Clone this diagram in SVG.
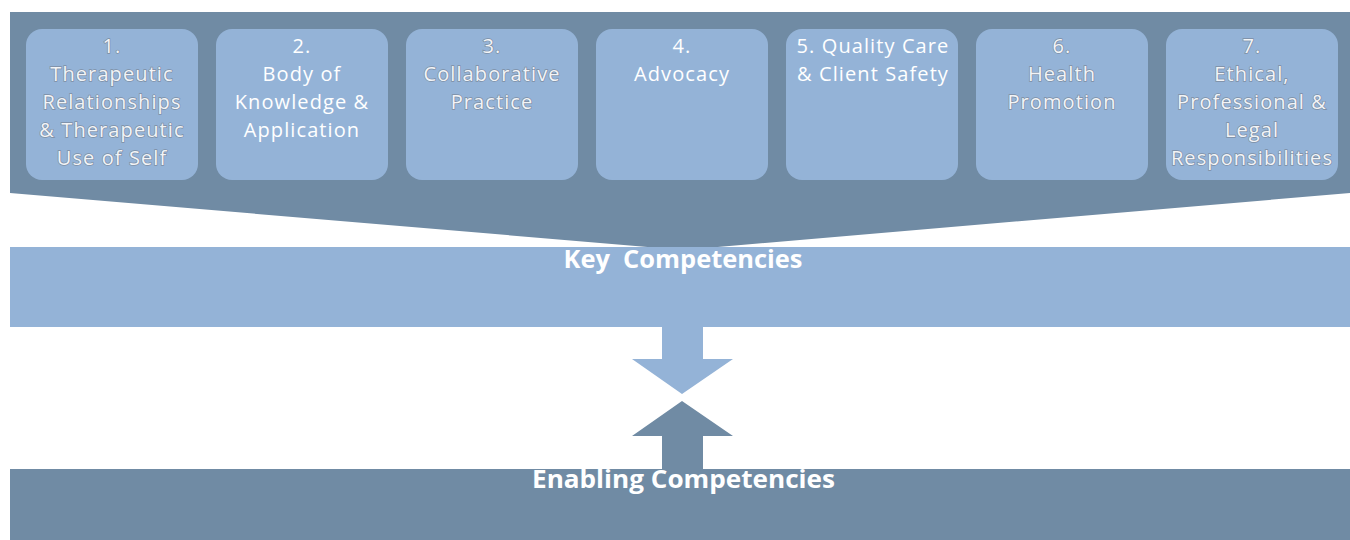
<svg xmlns="http://www.w3.org/2000/svg" width="1350" height="540" viewBox="0 0 1350 540">
<style>
.dark{fill:#708BA4}
.light{fill:#94B3D7}
.box{fill:#94B3D7}
.t{font-family:"Open Sans","Liberation Sans",sans-serif;font-size:20px;letter-spacing:1.1px;fill:#ffffff;text-anchor:middle}
.o{fill:#f2f4f7;stroke:#7d8ea3;stroke-width:1.4px;paint-order:stroke fill}
.h{font-family:"Open Sans","Liberation Sans",sans-serif;font-size:25px;font-weight:bold;fill:#ffffff;text-anchor:middle}
</style>
<rect width="1350" height="540" fill="#ffffff"/>
<g id="top-band">
<polygon class="dark" points="10,12 1350,12 1350,193 683,250 10,193"/>
</g>
<g id="node1">
<rect class="box" x="26" y="29" width="172" height="151" rx="16"/>
<text class="t o"><tspan x="112" y="52.5">1.</tspan><tspan x="112" y="80.5">Therapeutic</tspan><tspan x="112" y="108.5">Relationships</tspan><tspan x="112" y="136.5">&amp; Therapeutic</tspan><tspan x="112" y="164.5">Use of Self</tspan></text>
</g>
<g id="node2">
<rect class="box" x="216" y="29" width="172" height="151" rx="16"/>
<text class="t"><tspan x="302" y="52.5">2.</tspan><tspan x="302" y="80.5">Body of</tspan><tspan x="302" y="108.5">Knowledge &amp;</tspan><tspan x="302" y="136.5">Application</tspan></text>
</g>
<g id="node3">
<rect class="box" x="406" y="29" width="172" height="151" rx="16"/>
<text class="t o"><tspan x="492" y="52.5">3.</tspan><tspan x="492" y="80.5">Collaborative</tspan><tspan x="492" y="108.5">Practice</tspan></text>
</g>
<g id="node4">
<rect class="box" x="596" y="29" width="172" height="151" rx="16"/>
<text class="t"><tspan x="682" y="52.5">4.</tspan><tspan x="682" y="80.5">Advocacy</tspan></text>
</g>
<g id="node5">
<rect class="box" x="786" y="29" width="172" height="151" rx="16"/>
<text class="t"><tspan x="873" y="52.5">5. Quality Care</tspan><tspan x="873" y="80.5">&amp; Client Safety</tspan></text>
</g>
<g id="node6">
<rect class="box" x="976" y="29" width="172" height="151" rx="16"/>
<text class="t o"><tspan x="1062" y="52.5">6.</tspan><tspan x="1062" y="80.5">Health</tspan><tspan x="1062" y="108.5">Promotion</tspan></text>
</g>
<g id="node7">
<rect class="box" x="1166" y="29" width="172" height="151" rx="16"/>
<text class="t o"><tspan x="1252" y="52.5">7.</tspan><tspan x="1252" y="80.5">Ethical,</tspan><tspan x="1252" y="108.5">Professional &amp;</tspan><tspan x="1252" y="136.5">Legal</tspan><tspan x="1252" y="164.5">Responsibilities</tspan></text>
</g>
<g id="key-competencies">
<rect class="light" x="10" y="247" width="1340" height="80"/>
<text class="h" x="683" y="268" xml:space="preserve" textLength="239" lengthAdjust="spacingAndGlyphs">Key  Competencies</text>
</g>
<g id="connectors">
<polygon class="light" points="662,327 703,327 703,359 733,359 682,394 632,359 662,359"/>
<polygon class="dark" points="682,401 733,436 703,436 703,469 662,469 662,436 632,436"/>
</g>
<g id="enabling-competencies">
<rect class="dark" x="10" y="469" width="1340" height="71"/>
<text class="h" x="683.5" y="488" textLength="303" lengthAdjust="spacingAndGlyphs">Enabling Competencies</text>
</g>
</svg>
